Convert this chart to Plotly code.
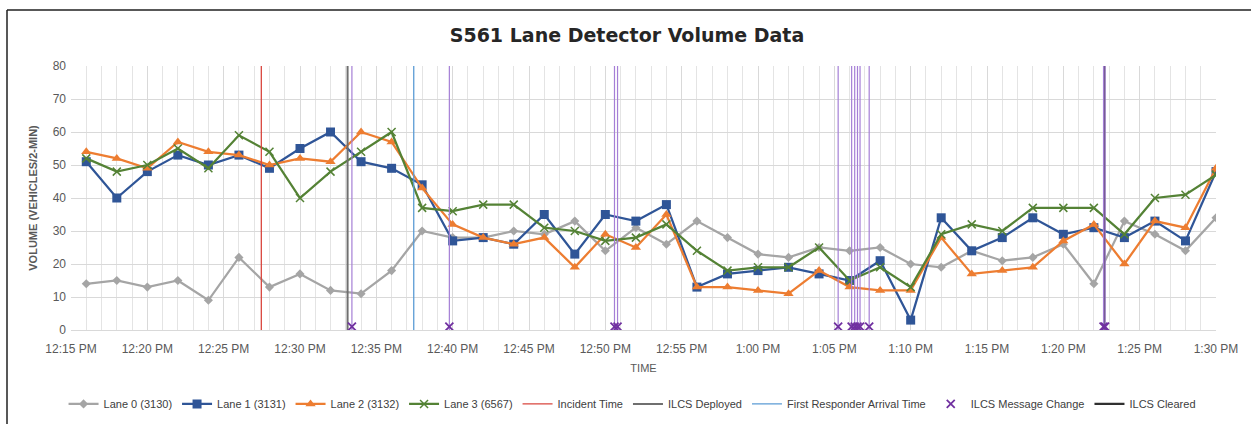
import plotly.graph_objects as go

DAY = "2020-01-01 "

times = ["12:16", "12:18", "12:20", "12:22", "12:24", "12:26", "12:28", "12:30",
         "12:32", "12:34", "12:36", "12:38", "12:40", "12:42", "12:44", "12:46",
         "12:48", "12:50", "12:52", "12:54", "12:56", "12:58", "13:00", "13:02",
         "13:04", "13:06", "13:08", "13:10", "13:12", "13:14", "13:16", "13:18",
         "13:20", "13:22", "13:24", "13:26", "13:28", "13:30"]

lane0 = [14, 15, 13, 15, 9, 22, 13, 17, 12, 11, 18, 30, 28, 28, 30, 29, 33, 24, 31,
         26, 33, 28, 23, 22, 25, 24, 25, 20, 19, 24, 21, 22, 26, 14, 33, 29, 24, 34]
lane1 = [51, 40, 48, 53, 50, 53, 49, 55, 60, 51, 49, 44, 27, 28, 26, 35, 23, 35, 33,
         38, 13, 17, 18, 19, 17, 15, 21, 3, 34, 24, 28, 34, 29, 31, 28, 33, 27, 48]
lane2 = [54, 52, 49, 57, 54, 53, 50, 52, 51, 60, 57, 43, 32, 28, 26, 28, 19, 29, 25,
         35, 13, 13, 12, 11, 18, 13, 12, 12, 28, 17, 18, 19, 27, 32, 20, 33, 31, 49]
lane3 = [52, 48, 50, 55, 49, 59, 54, 40, 48, 54, 60, 37, 36, 38, 38, 31, 30, 27, 28,
         32, 24, 18, 19, 19, 25, 15, 19, 13, 29, 32, 30, 37, 37, 37, 29, 40, 41, 47]

incident_time = "12:27:28"
ilcs_deployed_time = "12:33:07"
first_responder_time = "12:37:27"
ilcs_cleared_time = "13:22:41"
message_change_times = ["12:33:24", "12:39:47", "12:50:36", "12:50:48", "13:05:15",
                        "13:06:08", "13:06:20", "13:06:31", "13:06:41", "13:07:17",
                        "13:22:38", "13:22:44"]
message_marker_value = 1

y_ticks = [0, 10, 20, 30, 40, 50, 60, 70, 80]
x_tick_times = ["12:15", "12:20", "12:25", "12:30", "12:35", "12:40", "12:45", "12:50",
                "12:55", "13:00", "13:05", "13:10", "13:15", "13:20", "13:25", "13:30"]
x_tick_labels = ["12:15 PM", "12:20 PM", "12:25 PM", "12:30 PM", "12:35 PM", "12:40 PM",
                 "12:45 PM", "12:50 PM", "12:55 PM", "1:00 PM", "1:05 PM", "1:10 PM",
                 "1:15 PM", "1:20 PM", "1:25 PM", "1:30 PM"]

def ts(t):
    return DAY + (t if t.count(":") == 2 else t + ":00")

X = [ts(t) for t in times]
YMAX = 80
FONT = "Liberation Sans Narrow, Arial Narrow, Liberation Sans, Arial"

fig = go.Figure()

lanes = [
    ("Lane 0 (3130)", lane0, "#A5A5A5", "diamond", 7),
    ("Lane 1 (3131)", lane1, "#2F5597", "square", 9),
    ("Lane 2 (3132)", lane2, "#ED7D31", "triangle-up", 9),
    ("Lane 3 (6567)", lane3, "#548235", "x-thin", 8),
]
rank = 1
for name, vals, color, sym, size in lanes:
    marker = dict(symbol=sym, size=size, color=color)
    if sym == "x-thin":
        marker["line"] = dict(color=color, width=1.5)
    fig.add_trace(go.Scatter(x=X, y=vals, name=name, mode="lines+markers",
                             line=dict(color=color, width=2.25), marker=marker,
                             legendrank=rank))
    rank += 1

def vline(t, name, color, width, rank, show=True):
    fig.add_trace(go.Scatter(x=[ts(t), ts(t)], y=[0, YMAX], mode="lines", name=name,
                             line=dict(color=color, width=width), showlegend=show,
                             hoverinfo="skip", legendrank=rank))

vline(incident_time, "Incident Time", "#D9463E", 1.3, 5)
vline(ilcs_deployed_time, "ILCS Deployed", "#6F6F6F", 2, 6)
vline(first_responder_time, "First Responder Arrival Time", "#5B9BD5", 1.3, 7)
vline(ilcs_cleared_time, "ILCS Cleared", "#303030", 2.2, 9)

mx, my = [], []
for t in message_change_times:
    mx += [ts(t), ts(t), None]
    my += [0, YMAX, None]
fig.add_trace(go.Scatter(x=mx, y=my, mode="lines", line=dict(color="#A57FD6", width=1.2),
                         showlegend=False, hoverinfo="skip"))
fig.add_trace(go.Scatter(x=[ts(t) for t in message_change_times],
                         y=[message_marker_value] * len(message_change_times),
                         mode="markers", name="ILCS Message Change", legendrank=8,
                         marker=dict(symbol="x-thin", size=8, color="#7030A0",
                                     line=dict(color="#7030A0", width=1.8))))

fig.update_layout(
    width=1251, height=424,
    margin=dict(l=71, r=35, t=66, b=94, autoexpand=False),
    paper_bgcolor="white", plot_bgcolor="white",
    font=dict(family=FONT, size=11, color="#595959"),
    title=dict(text="<b>S561 Lane Detector Volume Data</b>", x=627 / 1251, xref="container",
               xanchor="center", y=1 - 35 / 424, yanchor="middle",
               font=dict(family="DejaVu Sans, Liberation Sans, Arial", size=19, color="#262626")),
    legend=dict(orientation="h", x=0.49, xanchor="center", y=-0.28, yanchor="middle",
                font=dict(family=FONT, size=11, color="#404040"), itemwidth=30,
                tracegroupgap=0, bgcolor="rgba(0,0,0,0)"),
    showlegend=True,
)

fig.update_xaxes(
    type="date", range=[ts("12:15"), ts("13:30")], automargin=False,
    tickvals=[ts(t) for t in x_tick_times], ticktext=x_tick_labels,
    showgrid=True, gridcolor="#D9D9D9", gridwidth=1,
    minor=dict(dtick=60000, showgrid=True, gridcolor="#E4E4E4", gridwidth=1),
    showline=True, linecolor="#D9D9D9", ticks="", zeroline=False,
    ticklabelstandoff=8,
    tickfont=dict(family=FONT, size=12, color="#595959"),
    title=dict(text="TIME", standoff=8, font=dict(family=FONT, size=11, color="#595959")),
)
fig.update_yaxes(
    range=[0, YMAX], tickvals=y_ticks, showgrid=True, gridcolor="#D9D9D9", automargin=False,
    zeroline=False, showline=False, ticks="", ticklabelstandoff=4,
    tickfont=dict(family=FONT, size=12, color="#595959"),
    title=dict(text="<b>VOLUME (VEHICLES/2-MIN)</b>", standoff=12,
               font=dict(family=FONT, size=11, color="#595959")),
)

# outer chart border (left and top edges of the chart frame)
fig.add_shape(type="line", xref="paper", yref="paper", x0=(7 - 71) / 1145, x1=(7 - 71) / 1145,
              y0=(330 - 10) / 264, y1=(330 - 424) / 264, line=dict(color="#202020", width=1.5))
fig.add_shape(type="line", xref="paper", yref="paper", x0=(7 - 71) / 1145, x1=(1251 - 71) / 1145,
              y0=(330 - 10) / 264, y1=(330 - 10) / 264, line=dict(color="#202020", width=1.5))

fig.write_html("out.html", config={"displayModeBar": False},
               post_script="document.body.style.margin='0';")
